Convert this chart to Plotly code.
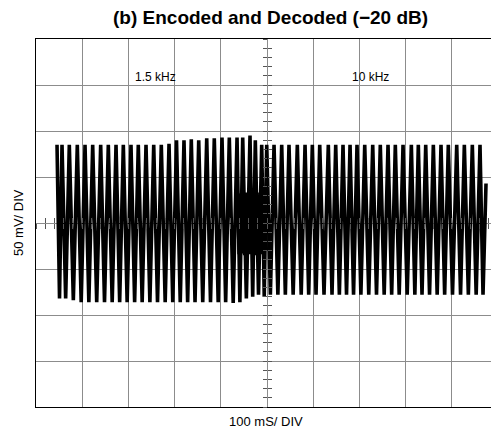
import plotly.graph_objects as go

# ---- data (time in ms, 100 ms/div; amplitude in mV, 50 mV/div) ----
top_t = [56.3, 72.1, 89.4, 106.1, 122.7, 140.0, 156.5, 173.2, 189.0, 205.6, 221.4, 238.1,
         254.8, 271.2, 287.9, 304.1, 320.3, 336.1, 352.2, 369.5, 385.9, 402.6, 418.4, 435.1,
         447.4, 463.2, 474.7, 488.5, 499.4, 515.2, 531.8, 547.6, 565.6, 582.3, 598.1, 614.1,
         632.7, 648.7, 664.5, 679.7, 694.8, 711.5, 728.8, 745.2, 761.9, 777.7, 794.4, 812.4,
         827.5, 843.5, 860.0, 876.6, 892.4, 910.6, 927.1, 944.4, 961.0]
top_v = [85, 85, 85, 85, 85, 85, 85, 85, 85, 85, 85, 85,
         85, 85, 86, 90, 90, 91, 90, 92, 92, 93, 93, 93,
         93, 95, 90, 85, 85, 85, 85, 85, 85, 85, 85, 85,
         85, 85, 85, 85, 85, 85, 85, 85, 85, 85, 85, 85,
         85, 85, 85, 85, 85, 85, 85, 85, 85]
bot_t = [64.2, 80.8, 97.8, 114.4, 131.4, 148.3, 164.9, 181.1, 197.3, 213.5, 229.8, 246.5,
         263.0, 279.6, 296.0, 312.2, 328.2, 344.2, 360.9, 377.7, 394.3, 410.5, 426.8, 441.3,
         455.3, 469.0, 481.6, 494.0, 507.3, 523.5, 539.7, 556.6, 574.0, 590.2, 606.1, 623.4,
         640.7, 656.6, 672.1, 687.3, 703.2, 720.2, 737.0, 753.6, 769.8, 786.1, 803.4, 820.0,
         835.5, 851.8, 868.3, 884.5, 901.5, 918.9, 935.8, 952.7, 967.5]
bot_v = [-82, -84, -86, -86, -86, -86, -86, -86, -86, -86, -86, -86,
         -86, -86, -86, -86, -86, -86, -86, -86, -86, -86, -87, -86,
         -82, -80, -78, -80, -78, -78, -78, -78, -78, -78, -78, -78,
         -78, -78, -78, -78, -78, -78, -78, -78, -78, -78, -78, -78,
         -78, -78, -78, -78, -78, -78, -78, -78, -78]
start_t, start_v = [45.5, 50.9], [85, -82]
end_t, end_v = [974.0], [43]

# dense mixing region where 1.5 kHz switches to 10 kHz
mix_t = [436, 439, 442, 445, 448, 451, 454, 457, 460, 463, 466, 469, 472, 475, 478,
         481, 484, 487, 490, 493, 496, 499]
mix_v = [30, -34, 32, -33, 30, -35, 33, -32, 31, -34, 30, -33, 32, -35, 30,
         -32, 33, -34, 30, -33, 28, -30]

labels = [("1.5 kHz", 259, 159), ("10 kHz", 725, 159)]
x_title = "100 mS/ DIV"
y_title = "50 mV/ DIV"
title = "(b) Encoded and Decoded (\u221220 dB)"

# interleave extremes
t = list(start_t)
v = list(start_v)
for a, b, c, d in zip(top_t, top_v, bot_t, bot_v):
    t += [a, c]
    v += [b, d]
t += end_t
v += end_v

X_RANGE = [0, 984.8]
CENTER_X = 500

fig = go.Figure()
fig.add_trace(go.Scatter(x=mix_t, y=mix_v, mode="lines",
                         line=dict(color="black", width=3), hoverinfo="skip"))
fig.add_trace(go.Scatter(x=t, y=v, mode="lines",
                         line=dict(color="black", width=3.6), hoverinfo="skip"))

grid = "#8c8c8c"
fig.update_layout(
    width=491, height=434,
    margin=dict(l=36, r=0, t=39, b=27),
    paper_bgcolor="white", plot_bgcolor="white",
    showlegend=False,
    font=dict(family="Liberation Sans, Arial, sans-serif", color="black"),
    xaxis=dict(range=X_RANGE, dtick=100, tick0=0, showgrid=True, gridcolor=grid, gridwidth=1,
               zeroline=False, showticklabels=False, ticks="",
               showline=True, linecolor="black", linewidth=1.3, mirror=True),
    yaxis=dict(range=[-200, 200], dtick=50, tick0=0, showgrid=True, gridcolor=grid, gridwidth=1,
               zeroline=False, showticklabels=False, ticks="",
               showline=True, linecolor="black", linewidth=1.3),
)

# centre graticule minor ticks (both sides of the centre lines)
for name, tk in (("xaxis2", "outside"), ("xaxis3", "inside")):
    fig.update_layout(**{name: dict(overlaying="x", matches="x", anchor="free", position=0.5,
                                    range=X_RANGE, showgrid=False, zeroline=False, showline=False,
                                    showticklabels=False, ticks=tk, ticklen=5, tickwidth=1,
                                    tickcolor="#555", dtick=20, tick0=0)})
for name, tk in (("yaxis2", "outside"), ("yaxis3", "inside")):
    fig.update_layout(**{name: dict(overlaying="y", matches="y", anchor="free",
                                    position=CENTER_X / X_RANGE[1],
                                    range=[-200, 200], showgrid=False, zeroline=False, showline=False,
                                    showticklabels=False, ticks=tk, ticklen=4, tickwidth=1,
                                    tickcolor="#555", dtick=10, tick0=0)})
# dummy invisible traces so the overlay axes render
for xa, ya in (("x2", "y"), ("x3", "y"), ("x", "y2"), ("x", "y3")):
    fig.add_trace(go.Scatter(x=[None], y=[None], xaxis=xa, yaxis=ya, showlegend=False,
                             hoverinfo="skip"))

fig.add_annotation(text=f"<b>{title}</b>", xref="paper", yref="paper",
                   x=(270 - 36) / 455, y=(407 - 18) / 368, showarrow=False,
                   xanchor="center", yanchor="middle", font=dict(size=19))
for txt, xx, yy in labels:
    fig.add_annotation(text=txt, x=xx, y=yy, showarrow=False, xanchor="center",
                       yanchor="middle", font=dict(size=12))
fig.add_annotation(text=x_title, xref="paper", yref="paper", x=(266 - 36) / 455,
                   y=(407 - 421) / 368, showarrow=False, xanchor="center", yanchor="middle",
                   font=dict(size=13))
fig.add_annotation(text=y_title, xref="paper", yref="paper", x=(18 - 36) / 455,
                   y=(407 - 223) / 368, showarrow=False, xanchor="center", yanchor="middle",
                   textangle=-90, font=dict(size=13))

fig.write_html("out.html")
